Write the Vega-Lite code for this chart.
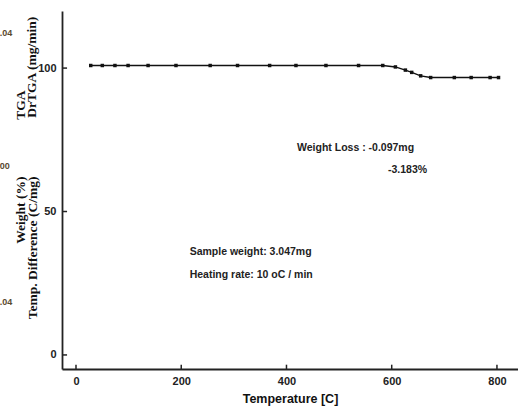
{
  "$schema": "https://vega.github.io/schema/vega-lite/v6.json",
  "width": 456,
  "height": 358,
  "autosize": {"type": "none"},
  "padding": {"left": 62, "top": 11, "right": 0, "bottom": 43},
  "background": "white",
  "config": {"view": {"stroke": null}, "font": "Liberation Sans"},
  "datasets": {
    "tga": [
      {"t": 28, "w": 100.9}, {"t": 50, "w": 100.9}, {"t": 74, "w": 100.9}, {"t": 99, "w": 100.9},
      {"t": 137, "w": 100.9}, {"t": 190, "w": 100.9}, {"t": 255, "w": 100.9}, {"t": 307, "w": 100.9},
      {"t": 368, "w": 100.9}, {"t": 418, "w": 100.9}, {"t": 475, "w": 100.9}, {"t": 537, "w": 100.9},
      {"t": 583, "w": 100.9}, {"t": 607, "w": 100.4}, {"t": 626, "w": 99.3}, {"t": 638, "w": 98.5},
      {"t": 655, "w": 97.3}, {"t": 674, "w": 96.7}, {"t": 719, "w": 96.7}, {"t": 751, "w": 96.7},
      {"t": 787, "w": 96.7}, {"t": 803, "w": 96.7}
    ],
    "xticks": [{"t": 0}, {"t": 200}, {"t": 400}, {"t": 600}, {"t": 800}],
    "yticks": [{"w": 0}, {"w": 50}, {"w": 100}],
    "notes": [
      {"t": 420, "w": 72.1, "label": "Weight Loss : -0.097mg"},
      {"t": 593, "w": 64.5, "label": "-3.183%"},
      {"t": 216, "w": 35.9, "label": "Sample weight: 3.047mg"},
      {"t": 216, "w": 27.9, "label": "Heating rate: 10 oC / min"}
    ],
    "titles": [
      {"t": -104.6, "w": 87.1, "label": "TGA"},
      {"t": -104.6, "w": 50.5, "label": "Weight (%)"},
      {"t": -84.5, "w": 100.3, "label": "DrTGA (mg/min)"},
      {"t": -82.0, "w": 37.3, "label": "Temp. Difference (C/mg)"}
    ],
    "sec": [
      {"t": -145, "w": 112.2, "label": ".04"},
      {"t": -145, "w": 65.9, "label": "00"},
      {"t": -145, "w": 18.5, "label": ".04"}
    ]
  },
  "layer": [
    {
      "data": {"name": "tga"},
      "mark": {"type": "line", "color": "#111", "strokeWidth": 1.4, "point": {"shape": "square", "size": 12, "color": "#111", "filled": true}},
      "encoding": {
        "x": {"field": "t", "type": "quantitative",
          "scale": {"domain": [-26.6, 840], "nice": false, "zero": false},
          "axis": {"values": [0, 200, 400, 600, 800], "title": "Temperature [C]", "grid": false, "ticks": false,
            "domainColor": "#222", "domainWidth": 1.8,
            "labelPadding": 6, "labelFont": "Liberation Sans", "labelFontWeight": "bold", "labelFontSize": 11, "labelColor": "#222",
            "titleFont": "Liberation Sans", "titleFontSize": 12.5, "titleFontWeight": "bold", "titleColor": "#111", "titlePadding": 6}},
        "y": {"field": "w", "type": "quantitative",
          "scale": {"domain": [-4.9, 119.9], "nice": false, "zero": false},
          "axis": {"values": [0, 50, 100], "title": null, "grid": false, "ticks": false,
            "domainColor": "#222", "domainWidth": 1.8,
            "labelPadding": 6, "labelFont": "Liberation Sans", "labelFontWeight": "bold", "labelFontSize": 11, "labelColor": "#222"}}
      }
    },
    {
      "data": {"name": "xticks"},
      "mark": {"type": "rule", "color": "#222", "strokeWidth": 1.5},
      "encoding": {
        "x": {"field": "t", "type": "quantitative"},
        "y": {"datum": -4.9, "type": "quantitative"},
        "y2": {"datum": -3.4}
      }
    },
    {
      "data": {"name": "yticks"},
      "mark": {"type": "rule", "color": "#222", "strokeWidth": 1.5},
      "encoding": {
        "y": {"field": "w", "type": "quantitative"},
        "x": {"datum": -26.6, "type": "quantitative"},
        "x2": {"datum": -17.0}
      }
    },
    {
      "mark": {"type": "rule", "color": "#222", "strokeWidth": 1.8},
      "encoding": {"y": {"datum": 119.9, "type": "quantitative"}}
    },
    {
      "data": {"name": "notes"},
      "mark": {"type": "text", "align": "left", "baseline": "middle", "font": "Liberation Sans", "fontSize": 10.5, "fontWeight": "bold", "color": "#222"},
      "encoding": {
        "x": {"field": "t", "type": "quantitative"},
        "y": {"field": "w", "type": "quantitative"},
        "text": {"field": "label"}
      }
    },
    {
      "data": {"name": "titles"},
      "mark": {"type": "text", "align": "center", "baseline": "middle", "angle": 270, "font": "Liberation Serif", "fontSize": 13.5, "fontWeight": "bold", "color": "#111", "clip": false},
      "encoding": {
        "x": {"field": "t", "type": "quantitative"},
        "y": {"field": "w", "type": "quantitative"},
        "text": {"field": "label"}
      }
    },
    {
      "data": {"name": "sec"},
      "mark": {"type": "text", "align": "left", "baseline": "middle", "font": "Liberation Sans", "fontSize": 9, "fontWeight": "bold", "color": "#5a4a30", "clip": false},
      "encoding": {
        "x": {"field": "t", "type": "quantitative"},
        "y": {"field": "w", "type": "quantitative"},
        "text": {"field": "label"}
      }
    }
  ]
}
